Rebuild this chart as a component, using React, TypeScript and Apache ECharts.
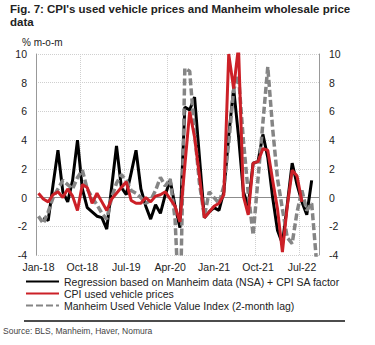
import React, { useEffect, useRef } from "react";
import * as echarts from "echarts";

const monthNames = ["Jan","Feb","Mar","Apr","May","Jun","Jul","Aug","Sep","Oct","Nov","Dec"];
const years = ["18","19","20","21","22"];
const categories: string[] = [];
years.forEach((y) => monthNames.forEach((m) => categories.push(`${m}-${y}`)));
categories.splice(58); // Jan-18 .. Oct-22

const regression = [null, -1.4, -1.6, 0.9, 3.3, 0.4, -0.3, 1.2, 4.0, 0.6, -0.7, -1.0, -1.3, -1.4, -2.2, 0.7, 3.6, 0.7, 0.2, 1.7, 3.3, 0.6, -0.6, -1.5, -0.5, -1.1, 0.2, 1.2, -0.6, -2.1, 6.3, 6.1, 7.0, 2.8, -1.4, -1.0, -0.7, -0.9, 0.4, 4.3, 7.6, 4.3, 0.4, -0.6, 2.4, 2.5, 4.4, 2.8, 0.0, -2.3, -3.2, -0.5, 2.4, 0.9, -0.3, -1.2, 1.2, null];

const cpiUsed = [0.3, -0.1, -0.3, 0.2, 0.4, 0.0, 0.6, 0.1, -0.9, 0.9, 0.7, -0.4, 0.3, -0.3, -0.9, -0.1, 0.3, 0.7, 1.1, -0.2, -0.4, -0.4, 0.0, -0.3, 0.1, 0.2, 0.4, -0.1, -0.6, -1.7, 2.2, 6.0, 4.2, 1.5, -1.4, -1.0, -0.6, -0.4, 0.2, 10.0, 7.6, 10.5, 0.1, -1.2, 2.4, 2.5, 3.4, 3.3, 1.2, -0.8, -3.8, -0.6, 1.9, 1.5, -0.3, null, null, null];

const manheim = [-1.3, -1.8, -1.0, 0.0, 0.6, 1.2, 0.9, 0.6, 1.4, 1.9, 0.6, 0.0, -0.5, -1.1, -1.5, 0.0, 1.0, 1.6, 1.2, 0.5, 0.3, 0.0, -0.4, -0.2, 0.5, 1.4, 0.8, 1.3, -1.5, -9.0, 9.0, 8.8, 4.5, 1.0, -1.3, 0.4, 0.0, -0.4, 0.8, 3.8, 7.5, 8.5, 4.0, 0.3, -2.6, 1.3, 5.2, 9.1, 4.8, 1.3, -0.8, -2.8, -3.2, -1.0, 0.5, -0.9, -0.4, -4.5];

const seriesNames = [
  "Regression based on Manheim data (NSA) + CPI SA factor",
  "CPI used vehicle prices",
  "Manheim Used Vehicle Value Index (2-month lag)",
];

const FONT = "'Liberation Sans', Arial, sans-serif";

export default function App() {
  const ref = useRef<HTMLDivElement>(null);
  useEffect(() => {
    if (!ref.current) return;
    const chart = echarts.init(ref.current, null, { renderer: "svg" });
    const yAxisCommon = {
      type: "value",
      min: -4,
      max: 10,
      interval: 2,
      axisLine: { show: true, lineStyle: { color: "#999", width: 1 } },
      axisTick: { show: false },
      axisLabel: { fontSize: 10.5, color: "#222", fontFamily: FONT },
    };
    chart.setOption({
      animation: false,
      textStyle: { fontFamily: FONT },
      title: {
        text: "Fig. 7: CPI's used vehicle prices and Manheim wholesale price\ndata",
        left: 10,
        top: 2,
        padding: 0,
        textStyle: { fontSize: 11.5, fontWeight: "bold", color: "#222", lineHeight: 13.5, fontFamily: FONT },
      },
      grid: { left: 36, right: 56, top: 54, bottom: 90, containLabel: false },
      legend: {
        data: seriesNames,
        orient: "vertical",
        left: 25,
        top: 276,
        padding: 0,
        itemWidth: 33,
        itemHeight: 9,
        itemGap: 1,
        itemStyle: { opacity: 0, borderWidth: 0 },
        textStyle: { fontSize: 10.5, lineHeight: 11, color: "#222", fontFamily: FONT },
      },
      xAxis: {
        type: "category",
        data: categories,
        boundaryGap: true,
        axisLine: { show: false },
        axisTick: { show: false },
        axisLabel: { interval: 8, fontSize: 10.5, color: "#222", margin: 6, fontFamily: FONT },
        splitLine: { show: true, interval: 8, lineStyle: { color: "#cfcfcf", type: "dotted", width: 1 } },
      },
      yAxis: [
        {
          ...yAxisCommon,
          position: "left",
          axisLabel: { ...yAxisCommon.axisLabel, margin: 9 },
          splitLine: { show: true, lineStyle: { color: "#cfcfcf", type: "dotted", width: 1 } },
        },
        {
          ...yAxisCommon,
          position: "right",
          axisLabel: { ...yAxisCommon.axisLabel, margin: 10 },
          splitLine: { show: false },
        },
      ],
      graphic: [
        {
          type: "text",
          left: 22,
          top: 37,
          style: { text: "% m-o-m", fontSize: 10, fill: "#222", fontFamily: FONT },
        },
        {
          type: "line",
          shape: { x1: 24, y1: 321, x2: 345, y2: 321 },
          style: { stroke: "#111", lineWidth: 1.3 },
        },
        {
          type: "text",
          left: 3,
          top: 326,
          style: { text: "Source: BLS, Manheim, Haver, Nomura", fontSize: 8.5, fill: "#444", fontFamily: FONT },
        },
      ],
      series: [
        {
          name: seriesNames[0],
          type: "line",
          data: regression,
          symbol: "none",
          connectNulls: false,
          lineStyle: { color: "#000", width: 3 },
          itemStyle: { color: "#000" },
          z: 2,
          markLine: {
            silent: true,
            symbol: "none",
            label: { show: false },
            lineStyle: { color: "#8c8c8c", type: "solid", width: 1 },
            data: [{ yAxis: 0 }],
            z: 1,
          },
        },
        {
          name: seriesNames[2],
          type: "line",
          data: manheim,
          symbol: "none",
          lineStyle: { color: "#858585", width: 3.5, type: [7, 3] },
          itemStyle: { color: "#858585" },
          z: 3,
        },
        {
          name: seriesNames[1],
          type: "line",
          data: cpiUsed,
          symbol: "none",
          lineStyle: { color: "#cc2027", width: 3 },
          itemStyle: { color: "#cc2027" },
          z: 4,
        },
      ],
    });
    return () => chart.dispose();
  }, []);
  return (
    <div
      ref={ref}
      style={{ position: "fixed", left: 0, top: 0, width: 375, height: 345, background: "#fff" }}
    />
  );
}
